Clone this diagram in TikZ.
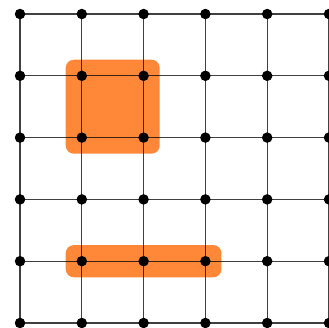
\documentclass[tikz,border=0pt]{standalone}
\usepackage{tikz}
\usetikzlibrary{calc}
\definecolor{patch}{RGB}{255,136,56}
\tikzset{
    dot/.style={circle,fill=black,inner sep=0pt,minimum size=0.17cm},
    gridline/.style={black,opacity=0.75,line width=0.6pt},
    region/.style={fill=patch,rounded corners=0.13cm}
}

\begin{document}
\begin{tikzpicture}[scale=1]

\useasboundingbox (-0.324,-0.081) rectangle (5.0,5.227);

% Lattice points
\foreach \i in {0,...,5}
  \foreach \j in {0,...,5}
    \coordinate (p-\i-\j) at (\i,\j);

% Highlighted regions
\fill[region] ($(p-1-3)+(-0.26,-0.26)$) rectangle ($(p-2-4)+(0.26,0.26)$);
\fill[region] ($(p-1-1)+(-0.26,-0.26)$) rectangle ($(p-3-1)+(0.26,0.26)$);

% Grid lines
\foreach \k in {0,...,5} {
  \draw[gridline] (p-0-\k) -- (p-5-\k);
  \draw[gridline] (p-\k-0) -- (p-\k-5);
}

% Dots
\foreach \i in {0,...,5}
  \foreach \j in {0,...,5}
    \node[dot] (d-\i-\j) at (p-\i-\j) {};

\end{tikzpicture}
\end{document}
